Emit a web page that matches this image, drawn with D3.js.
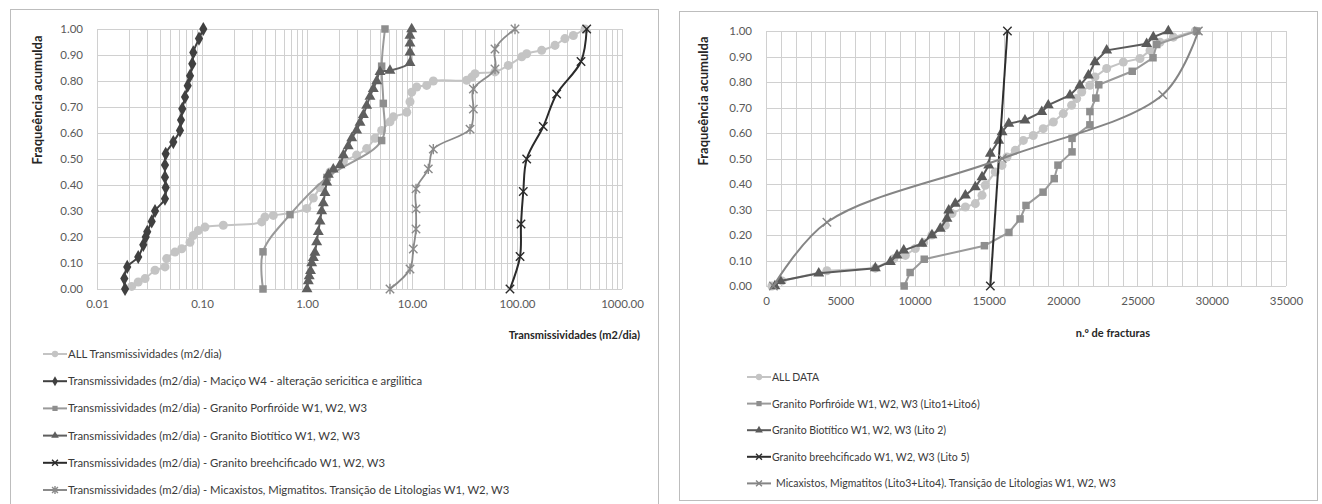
<!DOCTYPE html>
<html>
<head>
<meta charset="utf-8">
<title>Frequencia acumulada</title>
<style>
    body { margin: 0; background: #fff; }
    svg { display: block; font-family: Lato, "Open Sans", sans-serif; }
</style>
<script src="https://cdnjs.cloudflare.com/ajax/libs/d3/7.8.5/d3.min.js"></script>
</head>
<body>
<script>
// ---- left chart: transmissividades (log x) ----
const allT_x = [0.0214,0.0247,0.0287,0.0357,0.0444,0.0461,0.0553,0.0641,0.0769,0.0826,0.0922,0.1068,0.1595,0.3704,0.398,0.4777,0.993,1.148,1.33,1.656,2.22,2.97,3.70,4.44,5.14,6.17,6.64,8.91,9.57,9.93,11.08,13.8,15.96,33.2,37.1,39.8,61.7,82.6,110.9,123.7,171.8,230,286,344,445]
const allT_y = [0.01,0.027,0.04,0.072,0.085,0.117,0.142,0.155,0.18,0.206,0.225,0.238,0.245,0.258,0.277,0.283,0.31,0.35,0.39,0.45,0.49,0.515,0.54,0.58,0.61,0.643,0.662,0.68,0.72,0.757,0.777,0.783,0.8,0.803,0.815,0.828,0.835,0.86,0.893,0.905,0.918,0.937,0.963,0.975,1.0]
const macico_x = [0.0185,0.0182,0.0194,0.0247,0.0276,0.0291,0.0301,0.0332,0.0357,0.0444,0.0451,0.0444,0.0444,0.0451,0.0533,0.0617,0.0631,0.0649,0.0689,0.0731,0.0769,0.0808,0.0826,0.0936,0.1029]
const macico_y = [0,0.04,0.085,0.123,0.17,0.2,0.22,0.26,0.30,0.347,0.39,0.43,0.477,0.52,0.565,0.61,0.65,0.693,0.738,0.782,0.82,0.866,0.91,0.963,1.0]
const porfT_x = [0.381,0.381,0.689,1.55,5.14,5.33,5.14,5.53]
const porfT_y = [0,0.143,0.286,0.429,0.571,0.714,0.857,1.0]
const bioT_x = [1.0,1.029,1.05,1.08,1.109,1.15,1.19,1.236,1.281,1.33,1.38,1.43,1.483,1.54,1.596,1.78,2.06,2.22,2.47,2.67,2.97,3.2,3.44,3.7,3.98,4.28,4.61,4.96,6.17,9.57,9.57,9.57,9.57,9.93]
const bioT_y = [0,0.03,0.05,0.07,0.1,0.12,0.14,0.18,0.22,0.26,0.30,0.33,0.37,0.41,0.44,0.46,0.477,0.515,0.55,0.58,0.61,0.64,0.67,0.705,0.74,0.77,0.80,0.835,0.84,0.87,0.91,0.945,0.975,1.0]
const breeT_x = [85.7,106.9,109.2,114.8,123.7,177.9,238.6,407,461]
const breeT_y = [0,0.125,0.25,0.375,0.5,0.625,0.75,0.875,1.0]
const micaT_x = [6.17,9.57,10.29,10.92,10.92,10.92,14.3,15.96,35.7,38.4,38.4,61.7,61.7,95.7]
const micaT_y = [0,0.077,0.154,0.231,0.308,0.385,0.462,0.538,0.615,0.692,0.769,0.846,0.923,1.0]
const leftTicksX = [0.01,0.1,1,10,100,1000]
const leftLabels = ["ALL Transmissividades (m2/dia)",
    "Transmissividades (m2/dia) - Maciço W4 - alteração sericitica e argilitica",
    "Transmissividades (m2/dia) - Granito Porfiróide W1, W2, W3",
    "Transmissividades (m2/dia) - Granito Biotítico W1, W2, W3",
    "Transmissividades (m2/dia) - Granito breehcificado W1, W2, W3",
    "Transmissividades (m2/dia) - Micaxistos, Migmatitos. Transição de Litologias W1, W2, W3"]

// ---- right chart: n.º de fracturas ----
const allF_x = [400,1080,4100,7360,8600,9380,10050,10610,11170,12070,12520,13420,14090,14540,14760,15430,15880,16220,16780,17320,17990,18660,19340,20010,20570,20910,21250,21800,22140,22930,24050,25170,25850,26520,27420,28900]
const allF_y = [0,0.02,0.06,0.07,0.107,0.12,0.147,0.17,0.2,0.238,0.284,0.31,0.323,0.356,0.395,0.447,0.473,0.506,0.532,0.571,0.59,0.617,0.643,0.676,0.709,0.735,0.761,0.787,0.82,0.853,0.878,0.892,0.924,0.956,0.976,1.0]
const porfF_x = [9300,9700,10650,14700,16350,17100,17500,18650,19400,19650,20600,20600,21800,21800,22200,22400,24650,26050,26300,29000]
const porfF_y = [0,0.053,0.105,0.158,0.21,0.263,0.316,0.368,0.421,0.474,0.526,0.579,0.632,0.684,0.737,0.789,0.842,0.895,0.947,1.0]
const bioF_x = [600,960,3550,7360,8370,8820,9270,10500,11170,11730,12180,12300,12740,13420,14090,14540,14990,15100,15660,15890,16340,17430,18560,19000,20460,21130,21700,22140,22930,25620,26070,27080]
const bioF_y = [0,0.02,0.05,0.07,0.095,0.12,0.14,0.166,0.2,0.225,0.264,0.297,0.323,0.356,0.388,0.427,0.473,0.519,0.57,0.604,0.637,0.65,0.683,0.709,0.748,0.787,0.826,0.878,0.924,0.95,0.976,1.0]
const breeF_x = [15100,16250]
const breeF_y = [0,1]
const micaF_x = [500,4100,15900,26700,29100]
const micaF_y = [0,0.25,0.5,0.75,1.0]
const rightLabels = ["ALL DATA",
    "Granito Porfiróide W1, W2, W3 (Lito1+Lito6)",
    "Granito Biotítico W1, W2, W3 (Lito 2)",
    "Granito breehcificado W1, W2, W3 (Lito 5)",
    " Micaxistos, Migmatitos (Lito3+Lito4). Transição de Litologias W1, W2, W3"]

const yTicks = [0,0.1,0.2,0.3,0.4,0.5,0.6,0.7,0.8,0.9,1.0]
const yTitle = "Fraqueência acumulda"

const width = 1322
const height = 504
const svg = d3.select("body").append("svg")
    .attr("width", width)
    .attr("height", height)

const grid = "#d0d0d0"

function marker(g, type, x, y, color, s) {
    s = s || 1
    if (type == "x" || type == "star") {
        let r = 4.2 * s
        let d = `M${x-r},${y-r}L${x+r},${y+r}M${x-r},${y+r}L${x+r},${y-r}`
        if (type == "star") d += `M${x},${y-r-1}L${x},${y+r+1}`
        g.append("path").attr("d", d).attr("stroke", color).attr("stroke-width", 1.4).attr("fill", "none")
        return
    }
    let sym = {circle: d3.symbolCircle, diamond: d3.symbolDiamond, square: d3.symbolSquare, triangle: d3.symbolTriangle}[type]
    let size = {circle: 64, diamond: 58, square: 56, triangle: 52}[type] * s * s
    g.append("path")
        .attr("d", d3.symbol().type(sym).size(size)())
        .attr("transform", `translate(${x},${y})`)
        .attr("fill", color)
}

function series(g, xs, ys, xs_, ys_, st) {
    let pts = d3.zip(xs, ys)
    let line = d3.line().x(d => xs_(d[0])).y(d => ys_(d[1]))
    if (st.smooth) line.curve(d3.curveCatmullRom)
    g.append("path")
        .attr("d", line(pts))
        .attr("fill", "none")
        .attr("stroke", st.color)
        .attr("stroke-width", st.lw || 2)
    pts.forEach(p => marker(g, st.marker, xs_(p[0]), ys_(p[1]), st.mcolor || st.color))
}

function legend(g, x, y0, dy, labels, styles, fs) {
    labels.forEach((t, i) => {
        let y = y0 + i * dy
        g.append("line").attr("x1", x).attr("x2", x + 24).attr("y1", y).attr("y2", y)
            .attr("stroke", styles[i].color).attr("stroke-width", 2)
        marker(g, styles[i].marker, x + 12, y, styles[i].mcolor || styles[i].color, 0.7)
        g.append("text").attr("x", x + 25 + (t.startsWith(" ") ? 4 : 0)).attr("y", y + 4)
            .attr("font-size", fs).attr("fill", "#3a3a3a").text(t.trim())
    })
}

function yAxis(g, ys, x0) {
    g.append("g")
        .attr("transform", `translate(${x0},0)`)
        .call(d3.axisLeft(ys).tickValues(yTicks).tickSize(0).tickPadding(14).tickFormat(d3.format(".2f")))
        .call(a => a.select(".domain").remove())
        .call(a => a.selectAll("text").attr("font-size", 11.5).attr("fill", "#595959").attr("font-family", "Lato"))
}

function yTitleText(cx, cy) {
    svg.append("text")
        .attr("x", cx).attr("y", cy)
        .attr("transform", `rotate(-90 ${cx} ${cy})`)
        .attr("text-anchor", "middle")
        .attr("dominant-baseline", "middle")
        .attr("font-size", 13)
        .attr("font-weight", "bold")
        .attr("fill", "#262626")
        .text(yTitle)
}

// ---------- LEFT CHART ----------
const gl = svg.append("g")
gl.append("rect").attr("x", 10.5).attr("y", 9.5).attr("width", 648).attr("height", 520)
    .attr("fill", "#fff").attr("stroke", "#bdbdbd")

const xL = d3.scaleLog().domain([0.01, 1000]).range([97, 622])
const yL = d3.scaleLinear().domain([0, 1]).range([289, 29])

gl.append("g").selectAll("line").data(xL.ticks()).join("line")
    .attr("x1", d => Math.round(xL(d)) + 0.5).attr("x2", d => Math.round(xL(d)) + 0.5)
    .attr("y1", yL(0)).attr("y2", yL(1))
    .attr("stroke", grid)
gl.append("g").selectAll("line").data(yTicks).join("line")
    .attr("x1", xL.range()[0]).attr("x2", xL.range()[1])
    .attr("y1", d => Math.round(yL(d)) + 0.5).attr("y2", d => Math.round(yL(d)) + 0.5)
    .attr("stroke", grid)

gl.append("g")
    .attr("transform", `translate(0,${yL(0)})`)
    .call(d3.axisBottom(xL).tickValues(leftTicksX).tickSize(0).tickPadding(11).tickFormat(d3.format(".2f")))
    .call(a => a.select(".domain").remove())
    .call(a => a.selectAll("text").attr("font-size", 11.5).attr("fill", "#595959").attr("font-family", "Lato"))
yAxis(gl, yL, 97)
gl.append("text").attr("x", 640).attr("y", 339).attr("text-anchor", "end")
    .attr("font-size", 11).attr("font-weight", "bold").attr("fill", "#262626")
    .text("Transmissividades (m2/dia)")

const leftStyles = [
    {color: "#c4c4c4", marker: "circle", smooth: true},
    {color: "#404040", marker: "diamond", smooth: true},
    {color: "#9a9a9a", marker: "square", mcolor: "#8e8e8e", smooth: true},
    {color: "#5f5f5f", marker: "triangle", smooth: true},
    {color: "#2a2a2a", marker: "x", smooth: true},
    {color: "#8a8a8a", marker: "star", smooth: true, lw: 1.8}
]
const leftData = [[allT_x, allT_y], [macico_x, macico_y], [porfT_x, porfT_y], [bioT_x, bioT_y], [breeT_x, breeT_y], [micaT_x, micaT_y]]
leftData.forEach((d, i) => series(gl, d[0], d[1], xL, yL, leftStyles[i]))
legend(gl, 43, 354, 27.2, leftLabels, leftStyles, 11.3)

// ---------- RIGHT CHART ----------
const gr = svg.append("g")
gr.append("rect").attr("x", 679.5).attr("y", 11.5).attr("width", 638).attr("height", 489)
    .attr("fill", "#fff").attr("stroke", "#bdbdbd")

const xR = d3.scaleLinear().domain([0, 35000]).range([766, 1286])
const yR = d3.scaleLinear().domain([0, 1]).range([286, 31])

gr.append("g").selectAll("line").data(d3.range(0, 35001, 1000)).join("line")
    .attr("x1", d => Math.round(xR(d)) + 0.5).attr("x2", d => Math.round(xR(d)) + 0.5)
    .attr("y1", yR(0)).attr("y2", yR(1))
    .attr("stroke", grid)
gr.append("g").selectAll("line").data(yTicks).join("line")
    .attr("x1", xR.range()[0]).attr("x2", xR.range()[1])
    .attr("y1", d => Math.round(yR(d)) + 0.5).attr("y2", d => Math.round(yR(d)) + 0.5)
    .attr("stroke", grid)

gr.append("g")
    .attr("transform", `translate(0,${yR(0)})`)
    .call(d3.axisBottom(xR).tickValues(d3.range(0, 35001, 5000)).tickSize(0).tickPadding(11).tickFormat(d3.format("d")))
    .call(a => a.select(".domain").remove())
    .call(a => a.selectAll("text").attr("font-size", 11.5).attr("fill", "#595959").attr("font-family", "Lato"))
yAxis(gr, yR, 766)
gr.append("text").attr("x", 1150).attr("y", 337).attr("text-anchor", "end")
    .attr("font-size", 11).attr("font-weight", "bold").attr("fill", "#262626")
    .text("n.º de fracturas")

const rightStyles = [
    {color: "#c4c4c4", marker: "circle"},
    {color: "#9a9a9a", marker: "square", mcolor: "#8e8e8e"},
    {color: "#5a5a5a", marker: "triangle"},
    {color: "#2e2e2e", marker: "x"},
    {color: "#858585", marker: "x", smooth: true}
]
const rightData = [[allF_x, allF_y], [porfF_x, porfF_y], [bioF_x, bioF_y], [breeF_x, breeF_y], [micaF_x, micaF_y]]
rightData.forEach((d, i) => series(gr, d[0], d[1], xR, yR, rightStyles[i]))
legend(gr, 747, 377, 26.6, rightLabels, rightStyles, 10.5)

// axis titles on y
yTitleText(39, 100)
yTitleText(705, 101)
</script>
</body>
</html>
